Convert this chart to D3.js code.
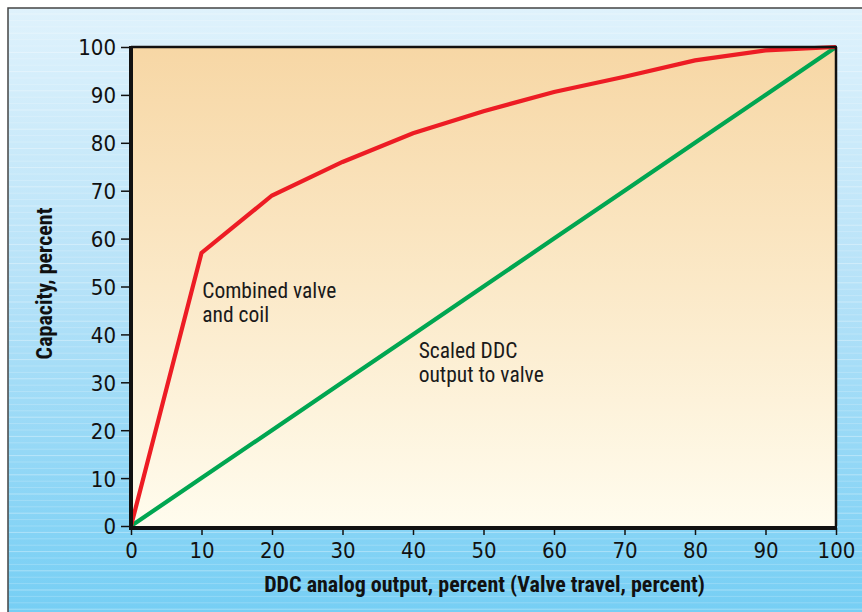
<!DOCTYPE html>
<html>
<head>
<meta charset="utf-8">
<script src="https://cdn.jsdelivr.net/npm/d3@7"></script>
<style>
  body { margin: 0; background: #fff; }
  text { font-family: "Liberation Sans Narrow", "Roboto Condensed", "DejaVu Sans Condensed", sans-serif; }
</style>
</head>
<body>
<div id="chart"></div>
<script>
// chart values
const travel = [0, 10, 20, 30, 40, 50, 60, 70, 80, 90, 100];
const combined = [0, 57, 69, 76, 82, 86.6, 90.6, 93.8, 97.2, 99.3, 100];
const scaledDDC = [0, 10, 20, 30, 40, 50, 60, 70, 80, 90, 100];
const yTicks = [0, 10, 20, 30, 40, 50, 60, 70, 80, 90, 100];
const xTicks = [0, 10, 20, 30, 40, 50, 60, 70, 80, 90, 100];

const W = 862, H = 612;
const m = {left: 131, right: 26, top: 47, bottom: 86};

var svg = d3.select("#chart").append("svg")
    .attr("width", W)
    .attr("height", H);

var defs = svg.append("defs");

//blue backdrop gradient
var bg = defs.append("linearGradient").attr("id", "bg")
    .attr("x1", 0).attr("y1", 0).attr("x2", 0).attr("y2", 1);
bg.append("stop").attr("offset", "0%").attr("stop-color", "#dff2fc");
bg.append("stop").attr("offset", "45%").attr("stop-color", "#b6e2f8");
bg.append("stop").attr("offset", "100%").attr("stop-color", "#74cef4");

//plot area gradient
var pg = defs.append("linearGradient").attr("id", "pg")
    .attr("x1", 0).attr("y1", 0).attr("x2", 0).attr("y2", 1);
pg.append("stop").attr("offset", "0%").attr("stop-color", "#f7d7a5");
pg.append("stop").attr("offset", "50%").attr("stop-color", "#fbe9c8");
pg.append("stop").attr("offset", "100%").attr("stop-color", "#fffcee");

//frame
svg.append("rect")
    .attr("x", 8).attr("y", 8)
    .attr("width", W).attr("height", H)
    .attr("fill", "url(#bg)")
    .attr("stroke", "#444")
    .attr("stroke-width", 1.5);

//faint horizontal streaks
svg.append("g")
    .selectAll("line")
    .data(d3.range(14, H, 6.4))
    .enter()
    .append("line")
    .attr("x1", 9).attr("x2", W)
    .attr("y1", d => d).attr("y2", d => d)
    .attr("stroke", "#ffffff")
    .attr("stroke-opacity", (d, i) => i % 3 == 0 ? 0.35 : 0.2)
    .attr("stroke-width", 1);

var x = d3.scaleLinear().domain([0, 100]).range([m.left, W - m.right]);
var y = d3.scaleLinear().domain([0, 100]).range([H - m.bottom, m.top]);

//plot area
svg.append("rect")
    .attr("x", x(0)).attr("y", y(100))
    .attr("width", x(100) - x(0))
    .attr("height", y(0) - y(100))
    .attr("fill", "url(#pg)");

//axes
var yAxis = svg.append("g")
    .attr("transform", "translate(" + (x(0) - 2) + ",0)")
    .call(d3.axisLeft(y).tickValues(yTicks).tickSize(8).tickPadding(5));
var xAxis = svg.append("g")
    .attr("transform", "translate(0," + (y(0) + 2) + ")")
    .call(d3.axisBottom(x).tickValues(xTicks).tickSize(7).tickPadding(7));

[yAxis, xAxis].forEach(function(a) {
    a.select(".domain").remove();
    a.selectAll(".tick line").attr("stroke", "#111").attr("stroke-width", 1.5);
    a.selectAll(".tick text")
        .attr("fill", "#111")
        .style("font-size", "22px")
        .style("font-family", "'Liberation Sans Narrow', 'DejaVu Sans Condensed', sans-serif");
});
yAxis.selectAll(".tick text").attr("dy", "0.36em");

//series lines
var line = d3.line()
    .x((d, i) => x(travel[i]))
    .y(d => y(d));

svg.append("path")
    .datum(scaledDDC)
    .attr("d", line)
    .attr("fill", "none")
    .attr("stroke", "#00a651")
    .attr("stroke-width", 4.2);

svg.append("path")
    .datum(combined)
    .attr("d", line)
    .attr("fill", "none")
    .attr("stroke", "#ed1c24")
    .attr("stroke-width", 4.2)
    .attr("stroke-linejoin", "miter");

//plot border
svg.append("path")
    .attr("d", "M" + x(100) + "," + y(100) + "V" + y(0))
    .attr("stroke", "#111").attr("stroke-width", 2.5);
svg.append("path")
    .attr("d", "M" + x(0) + "," + y(100) + "H" + (x(100) + 1))
    .attr("stroke", "#111").attr("stroke-width", 2.5);
svg.append("path")
    .attr("d", "M" + x(0) + "," + (y(100) - 1) + "V" + (y(0) + 2) + "H" + (x(100) + 1))
    .attr("fill", "none")
    .attr("stroke", "#111").attr("stroke-width", 4);

//annotations
function label(lines, lx, ly) {
    var t = svg.append("text")
        .attr("x", x(lx)).attr("y", y(ly))
        .attr("fill", "#1a1a1a")
        .style("font-size", "21.5px");
    lines.forEach(function(s, i) {
        t.append("tspan").attr("x", x(lx)).attr("dy", i == 0 ? 0 : "1.1em").text(s);
    });
}
label(["Combined valve", "and coil"], 10.1, 47.5);
label(["Scaled DDC", "output to valve"], 40.8, 35);

//axis titles
svg.append("text")
    .attr("x", (x(0) + x(100)) / 2 + 1)
    .attr("y", 592)
    .attr("text-anchor", "middle")
    .attr("fill", "#111")
    .style("font-size", "22px")
    .style("font-weight", "bold")
    .text("DDC analog output, percent (Valve travel, percent)");

svg.append("text")
    .attr("transform", "translate(52," + ((y(0) + y(100)) / 2 - 3) + ") rotate(-90)")
    .attr("text-anchor", "middle")
    .attr("fill", "#111")
    .style("font-size", "22px")
    .style("font-weight", "bold")
    .text("Capacity, percent");
</script>
</body>
</html>
